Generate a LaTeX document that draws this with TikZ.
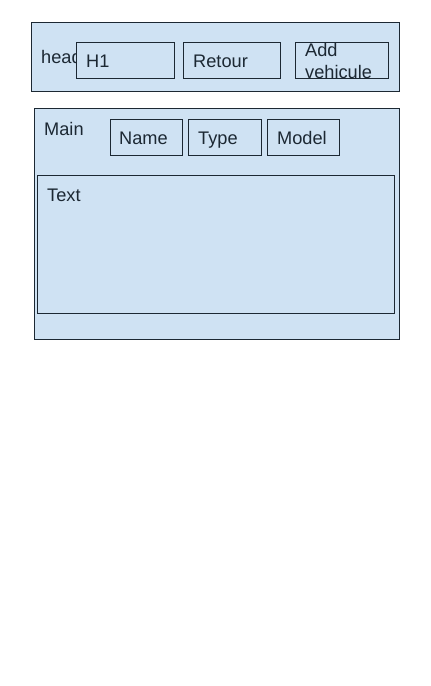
\documentclass[tikz,border=0pt]{standalone}
\usepackage{fontspec}
\setmainfont{Liberation Sans}
\definecolor{boxfill}{HTML}{CFE2F3}
\definecolor{boxline}{HTML}{1C2833}
\begin{document}
\begin{tikzpicture}[x=1pt,y=-1pt,
  box/.style={draw=boxline, fill=boxfill, line width=0.9pt, inner sep=0, anchor=north west},
  lbl/.style={anchor=base west, inner sep=0, font=\fontsize{18.2}{22}\selectfont, text=boxline}]
\useasboundingbox (0,0) rectangle (431,686);
\fill[white] (0,0) rectangle (431,686);
% header
\node[box, minimum width=368pt, minimum height=69pt] (header) at (31,22) {};
\node[lbl] (headlbl) at (41,63) {head};
\node[box, minimum width=98pt, minimum height=36pt] (h1) at (76,42) {};
\node[lbl] (h1lbl) at (86,67) {H1};
\node[box, minimum width=97pt, minimum height=36pt] (retour) at (183,42) {};
\node[lbl] (retourlbl) at (193,67) {Retour};
\node[box, minimum width=93pt, minimum height=36pt] (add) at (295,42) {};
\begin{scope}
  \clip (add.north west) rectangle (add.south east);
  \node[lbl] (addlbl) at (305,56) {Add};
  \node[lbl] (vehlbl) at (305,78) {vehicule};
\end{scope}
\draw[boxline, line width=0.9pt] (add.north west) rectangle (add.south east);
% main
\node[box, minimum width=365pt, minimum height=231pt] (main) at (34,108) {};
\node[lbl] (mainlbl) at (44,135) {Main};
\node[box, minimum width=72pt, minimum height=36pt] (name) at (110,119) {};
\node[lbl] (namelbl) at (119,144) {Name};
\node[box, minimum width=73pt, minimum height=36pt] (type) at (188,119) {};
\node[lbl] (typelbl) at (198,144) {Type};
\node[box, minimum width=72pt, minimum height=36pt] (model) at (267,119) {};
\node[lbl] (modellbl) at (277,144) {Model};
\node[box, minimum width=357pt, minimum height=138pt] (textbox) at (37,175) {};
\node[lbl] (textlbl) at (47,201) {Text};
\end{tikzpicture}
\end{document}
